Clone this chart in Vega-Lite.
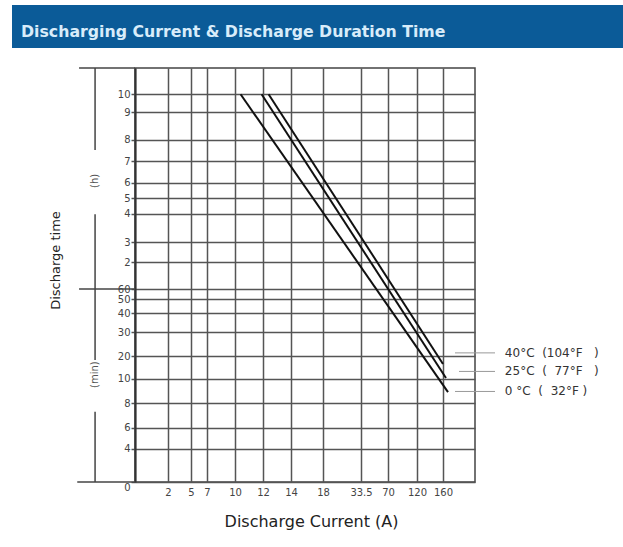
{
  "$schema": "https://vega.github.io/schema/vega-lite/v6.json",
  "background": "white",
  "padding": {"left": 12, "top": 5, "right": 0, "bottom": 0},
  "config": {"font": "DejaVu Sans"},
  "spacing": 18,
  "vconcat": [
    {
      "width": 611,
      "height": 43,
      "view": {"fill": "#0b5b98", "stroke": null},
      "data": {"values": [{"label": "Discharging Current & Discharge Duration Time"}]},
      "mark": {"type": "text", "align": "left", "baseline": "middle", "dx": 9, "dy": 5, "font": "DejaVu Sans", "fontSize": 15.75, "fontWeight": "bold", "color": "#d8ecfa"},
      "encoding": {
        "x": {"datum": 0, "type": "quantitative", "scale": {"domain": [0, 1]}, "axis": null},
        "y": {"datum": 0.5, "type": "quantitative", "scale": {"domain": [0, 1]}, "axis": null},
        "text": {"field": "label"}
      }
    },
    {
      "spacing": 0,
      "hconcat": [
        {
          "width": 36,
          "height": 414,
          "view": {"stroke": null},
          "data": {"values": []},
          "mark": "text",
          "encoding": {}
        },
        {
          "width": 340,
          "height": 414,
          "view": {"stroke": "#444", "strokeWidth": 1.5},
          "layer": [
            {
              "data": {"values": [
                {"temp": "0°C", "current": 10.4, "minutes": 600},
                {"temp": "0°C", "current": 169.4, "minutes": 8.9},
                {"temp": "25°C", "current": 11.9, "minutes": 600},
                {"temp": "25°C", "current": 165.6, "minutes": 10.3},
                {"temp": "40°C", "current": 12.4, "minutes": 600},
                {"temp": "40°C", "current": 160, "minutes": 16.5}
              ]},
              "mark": {"type": "line", "color": "#111", "strokeWidth": 2},
              "encoding": {
                "x": {"field": "current", "type": "quantitative",
                  "scale": {"domain": [0, 2, 5, 7, 10, 12, 14, 18, 33.5, 70, 120, 160, 220], "range": [0, 33, 56, 72, 100, 128, 156, 188, 226, 253, 282, 308, 340], "nice": false, "zero": false},
                  "axis": {"values": [0, 2, 5, 7, 10, 12, 14, 18, 33.5, 70, 120, 160], "tickCount": 100, "grid": true, "gridColor": "#555", "gridWidth": 1.5, "domain": false, "ticks": false, "labelExpr": "datum.value == 0 ? '' : '' + datum.value", "labelFontSize": 10, "labelColor": "#444", "labelPadding": 5, "labelOverlap": false, "labelFlush": false, "title": "Discharge Current (A)", "titleFontSize": 16, "titleFontWeight": "normal", "titleColor": "#222", "titleX": 176, "titleY": 39, "titleBaseline": "middle", "titleAlign": "center"}},
                "y": {"field": "minutes", "type": "quantitative",
                  "scale": {"domain": [0, 4, 6, 8, 10, 20, 30, 40, 50, 60, 120, 180, 240, 300, 360, 420, 480, 540, 600, 660], "range": [414, 380.7, 359.8, 335, 310.7, 288, 264, 245, 231, 221, 194, 174, 145.7, 130, 114.7, 93, 71.7, 44, 26.3, 0], "nice": false, "zero": false},
                  "axis": {"values": [0, 4, 6, 8, 10, 20, 30, 40, 50, 60, 120, 180, 240, 300, 360, 420, 480, 540, 600], "tickCount": 100, "grid": true, "gridColor": "#555", "gridWidth": 1.5, "domain": true, "domainColor": "#333", "domainWidth": 2, "ticks": true, "tickSize": 4, "tickColor": "#555", "tickWidth": 1.5, "labelExpr": "datum.value >= 120 ? '' + datum.value / 60 : '' + datum.value", "labelFontSize": 10, "labelColor": "#444", "labelPadding": 1, "labelOverlap": false, "labelFlush": false, "labelBaseline": {"condition": {"test": "datum.value == 0", "value": "top"}, "value": "middle"}, "title": "Discharge time", "titleFontSize": 13, "titleFontWeight": "normal", "titleColor": "#222", "titleX": -80, "titleY": 192, "titleAngle": -90, "titleBaseline": "middle", "titleAlign": "center"}},
                "detail": {"field": "temp"}
              }
            },
            {
              "data": {"values": [
                {"temp": "40°C", "x1": 182.5, "x2": 257.5, "m": 21.3},
                {"temp": "25°C", "x1": 190, "x2": 257.5, "m": 13.2},
                {"temp": "0°C", "x1": 182.5, "x2": 257.5, "m": 8.95}
              ]},
              "mark": {"type": "rule", "color": "#999", "strokeWidth": 1, "clip": false},
              "encoding": {
                "x": {"field": "x1", "type": "quantitative", "scale": {"domain": [0, 2, 5, 7, 10, 12, 14, 18, 33.5, 70, 120, 160, 220], "range": [0, 33, 56, 72, 100, 128, 156, 188, 226, 253, 282, 308, 340], "nice": false, "zero": false}},
                "x2": {"field": "x2"},
                "y": {"field": "m", "type": "quantitative", "scale": {"domain": [0, 4, 6, 8, 10, 20, 30, 40, 50, 60, 120, 180, 240, 300, 360, 420, 480, 540, 600, 660], "range": [414, 380.7, 359.8, 335, 310.7, 288, 264, 245, 231, 221, 194, 174, 145.7, 130, 114.7, 93, 71.7, 44, 26.3, 0], "nice": false, "zero": false}}
              }
            },
            {
              "data": {"values": [
                {"label": "40°C\u00a0\u00a0(104°F\u00a0\u00a0\u00a0)", "xt": 276, "m": 21.3},
                {"label": "25°C\u00a0\u00a0(\u00a0\u00a077°F\u00a0\u00a0\u00a0)", "xt": 276, "m": 13.2},
                {"label": "0\u00a0°C\u00a0\u00a0(\u00a0\u00a032°F\u00a0)", "xt": 276, "m": 8.95}
              ]},
              "mark": {"type": "text", "align": "left", "baseline": "middle", "fontSize": 12, "color": "#333", "clip": false},
              "encoding": {
                "x": {"field": "xt", "type": "quantitative", "scale": {"domain": [0, 2, 5, 7, 10, 12, 14, 18, 33.5, 70, 120, 160, 220], "range": [0, 33, 56, 72, 100, 128, 156, 188, 226, 253, 282, 308, 340], "nice": false, "zero": false}},
                "y": {"field": "m", "type": "quantitative", "scale": {"domain": [0, 4, 6, 8, 10, 20, 30, 40, 50, 60, 120, 180, 240, 300, 360, 420, 480, 540, 600, 660], "range": [414, 380.7, 359.8, 335, 310.7, 288, 264, 245, 231, 221, 194, 174, 145.7, 130, 114.7, 93, 71.7, 44, 26.3, 0], "nice": false, "zero": false}},
                "text": {"field": "label"}
              }
            },
            {
              "data": {"values": [
                {"xa": -2.42, "xb": -2.42, "ya": 451, "yb": 660},
                {"xa": -2.42, "xb": -2.42, "ya": 18.2, "yb": 239},
                {"xa": -2.42, "xb": -2.42, "ya": 0, "yb": 7.3},
                {"xa": -3.39, "xb": 0, "ya": 660, "yb": 660},
                {"xa": -3.39, "xb": 0, "ya": 60, "yb": 60},
                {"xa": -3.5, "xb": 0, "ya": 0, "yb": 0}
              ]},
              "mark": {"type": "rule", "color": "#444", "strokeWidth": 1.5, "clip": false},
              "encoding": {
                "x": {"field": "xa", "type": "quantitative", "scale": {"domain": [0, 2, 5, 7, 10, 12, 14, 18, 33.5, 70, 120, 160, 220], "range": [0, 33, 56, 72, 100, 128, 156, 188, 226, 253, 282, 308, 340], "nice": false, "zero": false}},
                "x2": {"field": "xb"},
                "y": {"field": "ya", "type": "quantitative", "scale": {"domain": [0, 4, 6, 8, 10, 20, 30, 40, 50, 60, 120, 180, 240, 300, 360, 420, 480, 540, 600, 660], "range": [414, 380.7, 359.8, 335, 310.7, 288, 264, 245, 231, 221, 194, 174, 145.7, 130, 114.7, 93, 71.7, 44, 26.3, 0], "nice": false, "zero": false}},
                "y2": {"field": "yb"}
              }
            },
            {
              "data": {"values": [
                {"label": "(h)", "xa": -2.42, "m": 365},
                {"label": "(min)", "xa": -2.42, "m": 11.8}
              ]},
              "mark": {"type": "text", "angle": 270, "align": "center", "baseline": "middle", "fontSize": 10, "color": "#555", "clip": false},
              "encoding": {
                "x": {"field": "xa", "type": "quantitative", "scale": {"domain": [0, 2, 5, 7, 10, 12, 14, 18, 33.5, 70, 120, 160, 220], "range": [0, 33, 56, 72, 100, 128, 156, 188, 226, 253, 282, 308, 340], "nice": false, "zero": false}},
                "y": {"field": "m", "type": "quantitative", "scale": {"domain": [0, 4, 6, 8, 10, 20, 30, 40, 50, 60, 120, 180, 240, 300, 360, 420, 480, 540, 600, 660], "range": [414, 380.7, 359.8, 335, 310.7, 288, 264, 245, 231, 221, 194, 174, 145.7, 130, 114.7, 93, 71.7, 44, 26.3, 0], "nice": false, "zero": false}},
                "text": {"field": "label"}
              }
            }
          ]
        }
      ]
    }
  ]
}
